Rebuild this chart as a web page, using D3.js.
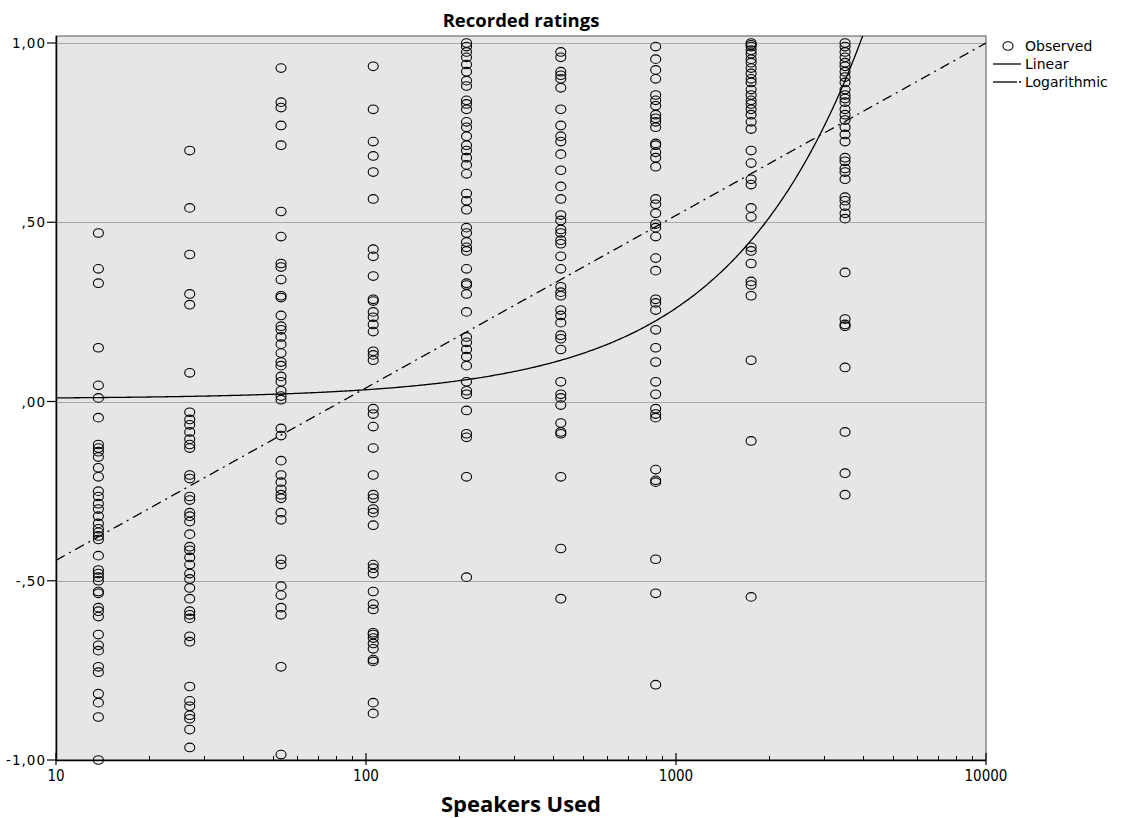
<!DOCTYPE html>
<html><head><meta charset="utf-8">
<script src="https://cdn.jsdelivr.net/npm/d3@7"></script>
<style>body{margin:0;background:#fff}svg{display:block}</style>
</head><body>
<svg id="chart" width="1121" height="818"></svg>
<script>
const speakers = [13.7, 27, 53.2, 105.5, 211, 425, 860, 1747, 3510];
const col1 = [0.47,0.37,0.33,0.15,0.045,0.01,-0.045,-0.12,-0.13,-0.14,-0.155,-0.185,-0.21,-0.25,-0.265,-0.285,-0.30,-0.32,-0.34,-0.355,-0.365,-0.375,-0.385,-0.43,-0.47,-0.48,-0.49,-0.50,-0.53,-0.535,-0.575,-0.585,-0.60,-0.65,-0.68,-0.695,-0.74,-0.755,-0.815,-0.84,-0.88,-1.0];
const col2 = [0.70,0.54,0.41,0.30,0.27,0.08,-0.03,-0.05,-0.065,-0.085,-0.105,-0.12,-0.13,-0.205,-0.215,-0.265,-0.275,-0.31,-0.32,-0.335,-0.37,-0.405,-0.415,-0.435,-0.455,-0.48,-0.495,-0.52,-0.55,-0.585,-0.595,-0.605,-0.655,-0.67,-0.795,-0.835,-0.85,-0.875,-0.885,-0.915,-0.965];
const col3 = [0.93,0.835,0.82,0.77,0.715,0.53,0.46,0.385,0.375,0.34,0.295,0.29,0.24,0.21,0.20,0.18,0.16,0.135,0.11,0.10,0.07,0.055,0.03,0.015,0.005,-0.075,-0.095,-0.165,-0.205,-0.225,-0.245,-0.26,-0.27,-0.31,-0.33,-0.44,-0.455,-0.515,-0.54,-0.575,-0.595,-0.74,-0.985];
const col4 = [0.935,0.815,0.725,0.685,0.64,0.565,0.425,0.405,0.35,0.285,0.28,0.25,0.235,0.215,0.195,0.14,0.13,0.115,-0.02,-0.035,-0.07,-0.13,-0.205,-0.26,-0.27,-0.30,-0.31,-0.345,-0.455,-0.465,-0.48,-0.53,-0.565,-0.58,-0.645,-0.65,-0.66,-0.675,-0.69,-0.72,-0.725,-0.84,-0.87];
const col5 = [1.0,0.99,0.975,0.96,0.94,0.92,0.895,0.88,0.84,0.83,0.815,0.78,0.765,0.74,0.715,0.70,0.68,0.66,0.635,0.58,0.56,0.535,0.485,0.47,0.445,0.43,0.42,0.37,0.33,0.325,0.30,0.25,0.18,0.165,0.145,0.125,0.10,0.055,0.03,0.02,-0.025,-0.09,-0.10,-0.21,-0.49];
const col6 = [0.975,0.96,0.92,0.91,0.90,0.875,0.815,0.77,0.74,0.725,0.69,0.645,0.60,0.565,0.52,0.505,0.48,0.47,0.45,0.44,0.405,0.37,0.32,0.305,0.295,0.255,0.24,0.22,0.185,0.175,0.145,0.055,0.02,0.01,-0.01,-0.06,-0.085,-0.09,-0.21,-0.41,-0.55];
const col7 = [0.99,0.955,0.925,0.90,0.855,0.84,0.825,0.80,0.79,0.78,0.765,0.72,0.715,0.695,0.68,0.655,0.565,0.55,0.525,0.495,0.485,0.46,0.40,0.365,0.285,0.275,0.255,0.20,0.15,0.11,0.055,0.02,-0.02,-0.035,-0.045,-0.19,-0.22,-0.225,-0.44,-0.535,-0.79];
const col8 = [1.0,0.995,0.99,0.98,0.97,0.955,0.945,0.93,0.915,0.90,0.89,0.87,0.855,0.84,0.83,0.815,0.80,0.78,0.76,0.70,0.665,0.62,0.605,0.54,0.515,0.43,0.42,0.385,0.335,0.325,0.295,0.115,-0.11,-0.545];
const col9 = [1.0,0.99,0.975,0.96,0.945,0.935,0.92,0.905,0.89,0.87,0.855,0.845,0.835,0.815,0.80,0.785,0.765,0.745,0.725,0.68,0.67,0.65,0.64,0.62,0.57,0.56,0.545,0.525,0.51,0.36,0.23,0.215,0.21,0.095,-0.085,-0.20,-0.26];
const ratings = [col1,col2,col3,col4,col5,col6,col7,col8,col9];
const xTicks = [10, 100, 1000, 10000];
const yTicks = [-1, -0.5, 0, 0.5, 1];
const yTickLabels = ["-1,00", "-,50", ",00", ",50", "1,00"];
// fitted models
const linearFit = {a: 0.0075, b: 0.000253};
const logFit = {c: -0.924, d: 0.481};
const legendItems = ["Observed", "Linear", "Logarithmic"];

const svg = d3.select("#chart");
const L = 56, R = 986, T = 36, B = 760;
const x = d3.scaleLog().domain([10, 10000]).range([L, R]);
const y = d3.scaleLinear().domain([-1, 1]).range([760, 43]);

svg.append("defs").append("clipPath").attr("id","clip")
  .append("rect").attr("x",L).attr("y",T).attr("width",R-L).attr("height",B-T);

svg.append("rect").attr("x",L).attr("y",T).attr("width",R-L).attr("height",B-T)
  .attr("fill","#e6e6e6").attr("stroke","#555").attr("stroke-width",1);

const grid = svg.append("g");
yTicks.filter(v => v > -1).forEach(v => {
  grid.append("line").attr("x1",L).attr("x2",R).attr("y1",Math.round(y(v))+0.5).attr("y2",Math.round(y(v))+0.5)
    .attr("stroke","#a8a8a8").attr("stroke-width",1);
});

// points
const pts = [];
speakers.forEach((s,i) => ratings[i].forEach(v => pts.push({s, v})));
svg.append("g").selectAll("ellipse").data(pts).join("ellipse")
  .attr("cx", d => x(d.s)).attr("cy", d => y(d.v))
  .attr("rx", 5).attr("ry", 4.3)
  .attr("fill","none").attr("stroke","#000").attr("stroke-width",1.1);

// fit lines
const xs = d3.range(0, 3.0001, 0.005).map(e => 10 * Math.pow(10, e));
const lineGen = fn => d3.line().x(d => x(d)).y(d => y(fn(d)))(xs);
const fits = svg.append("g").attr("clip-path","url(#clip)");
fits.append("path").attr("d", lineGen(s => linearFit.a + linearFit.b * s))
  .attr("fill","none").attr("stroke","#000").attr("stroke-width",1.3);
fits.append("path").attr("d", lineGen(s => logFit.c + logFit.d * Math.log10(s)))
  .attr("fill","none").attr("stroke","#000").attr("stroke-width",1.3)
  .attr("stroke-dasharray","10,5,2,5");

// axes
const xAxis = svg.append("g").attr("transform",`translate(0,${B})`);
xAxis.append("line").attr("x1",L).attr("x2",R).attr("y1",0.5).attr("y2",0.5).attr("stroke","#000").attr("stroke-width",1.5);
const minor = [];
for (let dec = 10; dec < 10000; dec *= 10) for (let k = 2; k <= 9; k++) minor.push(dec*k);
xAxis.selectAll(".minor").data(minor).join("line").attr("class","minor")
  .attr("x1",d=>Math.round(x(d))+0.5).attr("x2",d=>Math.round(x(d))+0.5).attr("y1",-4).attr("y2",0)
  .attr("stroke","#000");
xAxis.selectAll(".major").data(xTicks).join("line").attr("class","major")
  .attr("x1",d=>x(d)).attr("x2",d=>x(d)).attr("y1",-7).attr("y2",5)
  .attr("stroke","#000").attr("stroke-width",1.2);
xAxis.selectAll("text").data(xTicks).join("text")
  .attr("x",d=>x(d)).attr("y",21).attr("text-anchor","middle")
  .attr("font-family","'DejaVu Sans Condensed','DejaVu Sans',sans-serif").attr("font-stretch","condensed")
  .attr("font-size",15).text(d=>d);

const yAxis = svg.append("g");
yAxis.append("line").attr("x1",L+0.5).attr("x2",L+0.5).attr("y1",T).attr("y2",B).attr("stroke","#000").attr("stroke-width",1.5);
yAxis.selectAll(".tick").data(yTicks).join("line").attr("class","tick")
  .attr("x1",L-9).attr("x2",L).attr("y1",d=>y(d)).attr("y2",d=>y(d)).attr("stroke","#000").attr("stroke-width",1.2);
yAxis.selectAll("text").data(yTicks).join("text")
  .attr("x",L-10).attr("y",d=>y(d)+5).attr("text-anchor","end")
  .attr("font-family","'DejaVu Sans',sans-serif").attr("font-size",13.5).attr("letter-spacing",1)
  .text((d,i)=>yTickLabels[i]);

// titles
svg.append("text").attr("x",521).attr("y",27).attr("text-anchor","middle")
  .attr("font-family","'Open Sans',sans-serif").attr("font-weight","bold").attr("font-size",18.5)
  .text("Recorded ratings");
svg.append("text").attr("x",521).attr("y",812).attr("text-anchor","middle")
  .attr("font-family","'Open Sans',sans-serif").attr("font-weight","bold").attr("font-size",22)
  .text("Speakers Used");

// legend
const lg = svg.append("g").attr("font-family","'DejaVu Sans',sans-serif").attr("font-size",14);
lg.append("ellipse").attr("cx",1008).attr("cy",46).attr("rx",5).attr("ry",4.3).attr("fill","none").attr("stroke","#000").attr("stroke-width",1.1);
lg.append("line").attr("x1",993).attr("x2",1021).attr("y1",64).attr("y2",64).attr("stroke","#000").attr("stroke-width",1.3);
lg.append("line").attr("x1",993).attr("x2",1017).attr("y1",82).attr("y2",82).attr("stroke","#000").attr("stroke-width",1.3);
lg.append("line").attr("x1",1019).attr("x2",1021).attr("y1",82).attr("y2",82).attr("stroke","#000").attr("stroke-width",1.3);
legendItems.forEach((t,i) => lg.append("text").attr("x",1025).attr("y",51+18*i).text(t));
</script>
</body></html>
